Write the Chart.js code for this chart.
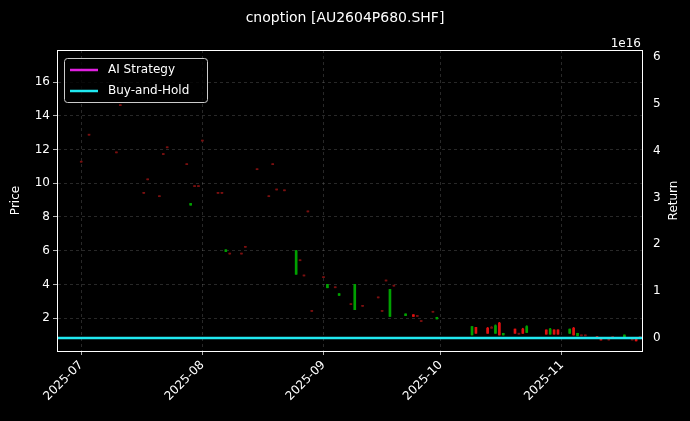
<!DOCTYPE html>
<html><head><meta charset="utf-8">
<script src="https://cdn.jsdelivr.net/npm/chart.js@4"></script>
<style>html,body{margin:0;padding:0;background:#000;}#c{display:block;}</style>
</head><body>
<div style="width:690px;height:421px"><canvas id="c" width="690" height="421"></canvas></div>
<script>
// day offsets from 2025-07-01
const days  = [0,2,9,10,16,17,20,21,22,27,28,29,30,31,35,36,37,38,41,42,45,48,49,50,52,55,56,57,58,59,62,63,65,66,69,70,72,76,77,78,79,80,83,85,86,87,90,91,100,101,104,105,106,107,108,111,112,113,114,119,120,121,122,125,126,127,128,129,132,133,135,136,139,141,142,143];
const open  = [11.3,12.9,11.85,14.65,9.45,10.25,9.25,11.75,12.15,11.15,8.7,9.85,9.85,12.55,9.45,9.45,5.95,5.85,5.85,6.25,10.85,9.25,11.15,9.65,9.6,4.6,5.45,4.55,8.35,2.45,4.45,3.8,3.85,3.35,2.85,2.5,2.75,3.25,2.45,4.25,2.1,3.95,2.15,2.2,2.15,1.85,2.4,1.95,1.0,1.45,1.4,1.45,1.1,1.7,1.0,1.35,1.1,1.35,1.15,1.3,1.05,1.3,1.3,1.1,1.4,0.95,1.0,1.0,0.9,0.8,0.75,0.9,0.85,0.75,0.75,0.9];
const close = [11.25,12.85,11.8,14.6,9.4,10.2,9.2,11.7,12.1,11.1,8.8,9.8,9.8,12.5,9.4,9.4,6.05,5.8,5.8,6.2,10.8,9.2,11.1,9.6,9.55,6.0,5.4,4.5,8.3,2.4,4.4,4.0,3.8,3.45,2.8,4.0,2.7,3.2,2.4,4.2,3.7,3.9,2.25,2.1,2.1,1.8,2.35,2.05,1.5,1.1,1.1,1.4,1.55,1.0,1.1,1.1,1.05,1.1,1.5,1.05,1.35,1.05,1.05,1.35,1.0,1.1,0.95,0.95,0.8,0.7,0.7,0.85,1.0,0.7,0.65,0.85];
const high  = [11.3,12.9,11.85,14.65,9.45,10.25,9.25,11.75,12.15,11.15,8.8,9.85,9.85,12.55,9.45,9.45,6.05,5.85,5.85,6.25,10.85,9.25,11.15,9.65,9.6,6.0,5.45,4.55,8.35,2.45,4.45,4.0,3.85,3.45,2.85,4.0,2.75,3.25,2.45,4.25,3.7,3.95,2.25,2.2,2.15,1.85,2.4,2.05,1.5,1.45,1.45,1.5,1.6,1.75,1.1,1.35,1.1,1.4,1.55,1.3,1.4,1.3,1.3,1.35,1.45,1.1,1.0,1.0,0.9,0.8,0.75,0.9,1.0,0.75,0.75,0.9];
const low   = [11.25,12.85,11.8,14.6,9.4,10.2,9.2,11.7,12.1,11.1,8.7,9.8,9.8,12.5,9.4,9.4,5.95,5.8,5.8,6.2,10.8,9.2,11.1,9.6,9.55,4.6,5.4,4.5,8.3,2.4,4.4,3.8,3.8,3.35,2.8,2.5,2.7,3.2,2.4,4.2,2.1,3.9,2.15,2.1,2.1,1.8,2.35,1.95,1.0,1.1,1.1,1.4,1.1,1.0,1.0,1.1,1.05,1.1,1.15,1.05,1.05,1.05,1.05,1.1,1.0,0.95,0.95,0.95,0.8,0.7,0.7,0.85,0.85,0.7,0.65,0.85];
const returnDays = [-6.2,143.5];
const aiReturn = [0,0];
const bhReturn = [0,0];
const monthTicks = [0,31,62,92,123];
const monthLabels = ['2025-07','2025-08','2025-09','2025-10','2025-11'];

const up = (i)=>close[i]>=open[i];
const small = (i)=>Math.abs(close[i]-open[i])<0.08;
const colr = days.map((d,i)=>small(i)?(up(i)?'#106010':'#7a1010'):(up(i)?'#00a000':'#e01010'));
const bodies = days.map((d,i)=>({x:d,y:[open[i],close[i]]}));
const wicks = days.map((d,i)=>({x:d,y:[low[i],high[i]]}));

const grid = {color:'rgba(128,128,128,0.45)', lineWidth:0.7, tickColor:'#fff', tickLength:4, offset:false};
const plugin = {
  id:'deco',
  afterDraw(ch){
    const c=ch.ctx, a=ch.chartArea;
    c.save();
    c.strokeStyle='#fff'; c.lineWidth=1;
    c.strokeRect(a.left+0.5,a.top+0.5,a.right-a.left,a.bottom-a.top);
    c.fillStyle='#fff'; c.font='14px "DejaVu Sans"'; c.textAlign='center'; c.textBaseline='middle';
    c.fillText('cnoption [AU2604P680.SHF]',345,18);
    c.font='12px "DejaVu Sans"'; c.textAlign='right';
    c.fillText('1e16',641,44);
    const my=(a.top+a.bottom)/2;
    c.textAlign='center';
    c.save(); c.translate(16,my); c.rotate(-Math.PI/2); c.fillText('Price',0,0); c.restore();
    c.save(); c.translate(674,my); c.rotate(-Math.PI/2); c.fillText('Return',0,0); c.restore();
    // legend
    c.fillStyle='rgba(0,0,0,0.8)'; c.strokeStyle='#ccc'; c.lineWidth=1;
    c.beginPath(); c.roundRect(64.5,58.5,143,44,3); c.fill(); c.stroke();
    c.lineWidth=2.5;
    c.strokeStyle='#e020e0'; c.beginPath(); c.moveTo(70,70); c.lineTo(98,70); c.stroke();
    c.strokeStyle='#20e8f0'; c.beginPath(); c.moveTo(70,91); c.lineTo(98,91); c.stroke();
    c.fillStyle='#fff'; c.textAlign='left';
    c.fillText('AI Strategy',108,70);
    c.fillText('Buy-and-Hold',108,91);
    c.restore();
  }
};
Chart.defaults.font.family='"DejaVu Sans"';
new Chart(document.getElementById('c'),{
  data:{datasets:[
    {type:'bar',data:wicks,backgroundColor:colr,barThickness:1,yAxisID:'y',grouped:false,order:3},
    {type:'bar',data:bodies,backgroundColor:colr,barThickness:2,minBarLength:1,yAxisID:'y',grouped:false,order:2},
    {type:'line',data:returnDays.map((d,i)=>({x:d,y:aiReturn[i]})),borderColor:'#e020e0',borderWidth:2,pointRadius:0,yAxisID:'y2',order:1},
    {type:'line',data:returnDays.map((d,i)=>({x:d,y:bhReturn[i]})),borderColor:'#20e8f0',borderWidth:2.5,pointRadius:0,yAxisID:'y2',order:0}
  ]},
  options:{
    responsive:false,animation:false,
    layout:{padding:{top:50,left:0,right:0,bottom:0}},
    plugins:{legend:{display:false},tooltip:{enabled:false}},
    scales:{
      x:{type:'linear',min:-6.2,max:143.5,offset:false,
        afterBuildTicks(s){s.ticks=monthTicks.map(v=>({value:v}));},
        afterFit(s){s.height=70;},
        ticks:{color:'#fff',font:{size:12},minRotation:45,maxRotation:45,autoSkip:false,
          callback:(v)=>monthLabels[monthTicks.indexOf(v)]},
        grid:{...grid}, border:{color:'#fff',dash:[3,3]}},
      y:{position:'left',min:0.05,max:17.9,
        afterBuildTicks(s){s.ticks=[2,4,6,8,10,12,14,16].map(v=>({value:v}));},
        afterFit(s){s.width=57;},
        ticks:{color:'#fff',font:{size:12}},
        grid:{...grid}, border:{color:'#fff',dash:[3,3]}},
      y2:{position:'right',min:-0.28,max:6.15,
        afterBuildTicks(s){s.ticks=[0,1,2,3,4,5,6].map(v=>({value:v}));},
        afterFit(s){s.width=48;},
        ticks:{color:'#fff',font:{size:12}},
        grid:{display:false}, border:{color:'#fff'}}
    }
  },
  plugins:[plugin]
});
</script>
</body></html>
